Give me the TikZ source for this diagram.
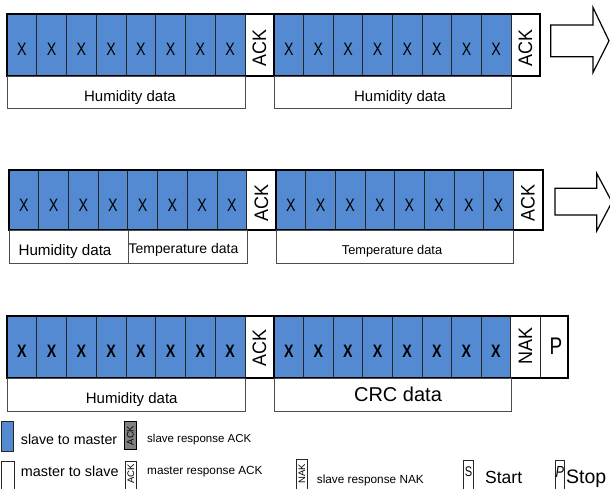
\documentclass[tikz,border=0pt]{standalone}
\usepackage{fontspec}
\setmainfont{Liberation Sans}
\newfontfamily\narrowfont[FakeStretch=0.79]{Liberation Sans}
\newfontfamily\ackfont[FakeStretch=0.92]{Liberation Sans}
\definecolor{bblue}{RGB}{83,138,210}
\definecolor{lgray}{RGB}{128,128,128}
\tikzset{
  xcell/.style={draw=black!85, line width=0.8pt, fill=bblue, inner sep=0pt, minimum height=61pt},
  wcell/.style={draw=black!85, line width=0.8pt, fill=white, inner sep=0pt, minimum height=61pt},
  xtxt/.style={inner sep=0pt, font=\narrowfont\fontsize{18}{19}\selectfont},
  xbtxt/.style={inner sep=0pt, font=\narrowfont\bfseries\fontsize{18}{19}\selectfont},
  acktxt/.style={inner sep=0pt, rotate=90, font=\ackfont\fontsize{19.5}{20}\selectfont},
  frame/.style={draw=black, line width=2pt},
  lbox/.style={draw=black!70, line width=0.9pt, fill=white, inner sep=0pt, anchor=north west},
  ltxt/.style={inner sep=0pt, anchor=base},
  blockarrow/.style={draw=black, line width=1.2pt, fill=white, line join=miter},
  legbox/.style={draw=black!85, line width=0.9pt, inner sep=0pt, anchor=north west},
  legtxt/.style={inner sep=0pt, anchor=base west},
  smallack/.style={inner sep=0pt, rotate=90, font=\fontsize{9.5}{10}\selectfont}
}
\begin{document}
\begin{tikzpicture}[x=1pt,y=-1pt]
\useasboundingbox (0,0) rectangle (610,488);
\clip (0,0) rectangle (610,488);
\fill[white] (0,0) rectangle (610,488);

% ---------------- Row 1 ----------------
\foreach \i in {0,...,7} {
  \node[xcell, minimum width=29.75pt] (ra\i) at ({7+29.75*(\i+0.5)}, 44.75) {};
  \node[xtxt] at ([yshift=-5pt]ra\i.center) {X};
  \node[xcell, minimum width=29.625pt] (rb\i) at ({274+29.625*(\i+0.5)}, 44.75) {};
  \node[xtxt] at ([yshift=-5pt]rb\i.center) {X};
}
\node[wcell, minimum width=29pt] (rack1) at (259.5,44.75) {};
\node[acktxt] at ([yshift=-3.3pt]rack1.center) {ACK};
\node[wcell, minimum width=29pt] (rack2) at (525.5,44.75) {};
\node[acktxt] at ([yshift=-3.3pt]rack2.center) {ACK};
\draw[frame] (7,14) rectangle (540,75.5);
\draw[frame] (274,14) -- (274,75.5);
\node[lbox, minimum width=238pt, minimum height=32pt] (rh1) at (7,76) {};
\node[ltxt, font=\fontsize{15}{16}\selectfont] at (130,101) {Humidity data};
\node[lbox, minimum width=237pt, minimum height=32pt] (rh2) at (274,76) {};
\node[ltxt, font=\fontsize{15}{16}\selectfont] at (400,101) {Humidity data};
\draw[blockarrow] (550.7,25) -- (593,25) -- (593,7.5) -- (609,40.8) -- (593,72.5) -- (593,56.7) -- (550.7,56.7) -- cycle;

% ---------------- Row 2 ----------------
\foreach \i in {0,...,7} {
  \node[xcell, minimum width=29.71pt, minimum height=60.5pt] (sa\i) at ({9+29.71*(\i+0.5)}, 199.75) {};
  \node[xtxt] at ([yshift=-6pt]sa\i.center) {X};
  \node[xcell, minimum width=29.66pt, minimum height=60.5pt] (sb\i) at ({276+29.66*(\i+0.5)}, 199.75) {};
  \node[xtxt] at ([yshift=-6pt]sb\i.center) {X};
}
\node[wcell, minimum width=29.3pt, minimum height=60.5pt] (sack1) at (261.35,199.75) {};
\node[acktxt] at ([yshift=-3.6pt]sack1.center) {ACK};
\node[wcell, minimum width=29.4pt, minimum height=60.5pt] (sack2) at (528,199.75) {};
\node[acktxt] at ([yshift=-3.6pt]sack2.center) {ACK};
\draw[frame] (9,169.5) rectangle (542.7,230);
\draw[frame] (276,169.5) -- (276,230);
\node[lbox, minimum width=118.7pt, minimum height=33pt] (sh1) at (9,230) {};
\node[ltxt, font=\fontsize{15.2}{16}\selectfont] at (65,255) {Humidity data};
\node[lbox, minimum width=119pt, minimum height=33pt] (st1) at (127.7,230) {};
\node[ltxt, font=\fontsize{14}{15}\selectfont] at (183.5,253.3) {Temperature data};
\node[lbox, minimum width=237.3pt, minimum height=33pt] (st2) at (276,230) {};
\node[ltxt, font=\fontsize{12.8}{14}\selectfont] at (392,254) {Temperature data};
\draw[blockarrow] (555,188.3) -- (596.7,188.3) -- (596.7,173.3) -- (612,202) -- (596.7,231) -- (596.7,215) -- (555,215) -- cycle;

% ---------------- Row 3 ----------------
\foreach \i in {0,...,7} {
  \node[xcell, minimum width=29.75pt, minimum height=62pt] (ta\i) at ({7+29.75*(\i+0.5)}, 347) {};
  \node[xbtxt] at ([yshift=-4.7pt]ta\i.center) {X};
  \node[xcell, minimum width=29.59pt, minimum height=62pt] (tb\i) at ({274+29.59*(\i+0.5)}, 347) {};
  \node[xbtxt] at ([yshift=-4.7pt]tb\i.center) {X};
}
\node[wcell, minimum width=29pt, minimum height=62pt] (tack) at (259.5,347) {};
\node[acktxt] at ([yshift=-1pt]tack.center) {ACK};
\node[wcell, minimum width=29.3pt, minimum height=62pt] (tnak) at (525.35,347) {};
\node[acktxt] at ([yshift=1.3pt]tnak.center) {NAK};
\node[wcell, minimum width=28pt, minimum height=62pt] (tp) at (554,347) {};
\node[inner sep=0pt, font=\narrowfont\fontsize{24}{25}\selectfont] at ([xshift=2pt,yshift=0.5pt]tp.center) {P};
\draw[frame] (7,316) rectangle (568,378);
\draw[frame] (274,316) -- (274,378);
\node[lbox, minimum width=238pt, minimum height=32.5pt] (th1) at (7,378) {};
\node[ltxt, font=\fontsize{15}{16}\selectfont] at (131.7,403.3) {Humidity data};
\node[lbox, minimum width=236.7pt, minimum height=32.5pt] (tc1) at (274,378) {};
\node[ltxt, font=\fontsize{20}{21}\selectfont] at (398,401.7) {CRC data};

% ---------------- Legend ----------------
\node[legbox, fill=bblue, minimum width=12pt, minimum height=30pt] (lg1) at (1,421) {};
\node[legtxt, font=\fontsize{14.2}{15}\selectfont] (lt1) at (20.7,444.3) {slave to master};
\node[legbox, fill=lgray, draw=black, minimum width=12pt, minimum height=28pt] (lg2) at (124,421) {};
\node[smallack] at (lg2.center) {ACK};
\node[legtxt, font=\fontsize{11.5}{12}\selectfont] (lt2) at (147,442.3) {slave response ACK};

\node[legbox, fill=white, minimum width=13pt, minimum height=32pt] (lg3) at (1,461) {};
\node[legtxt, font=\fontsize{14.4}{15}\selectfont] (lt3) at (20.7,476) {master to slave};
\node[legbox, fill=white, minimum width=11pt, minimum height=32pt] (lg4) at (125,461) {};
\node[smallack] at ([yshift=3.5pt]lg4.center) {ACK};
\node[legtxt, font=\fontsize{11.8}{12}\selectfont] (lt4) at (147,474.3) {master response ACK};

\node[legbox, fill=white, minimum width=11pt, minimum height=33pt] (lg5) at (296,459) {};
\node[smallack] at ([yshift=2pt]lg5.center) {NAK};
\node[legtxt, font=\fontsize{11.8}{12}\selectfont] (lt5) at (316.7,483.3) {slave response NAK};

\node[legbox, fill=white, minimum width=10pt, minimum height=32pt] (lg6) at (463,460) {};
\node[inner sep=0pt, font=\narrowfont\fontsize{14}{15}\selectfont] at ([yshift=5pt]lg6.center) {S};
\node[legtxt, font=\fontsize{17.5}{18}\selectfont] (lt6) at (485,483.3) {Start};
\node[legbox, fill=white, minimum width=9pt, minimum height=32pt] (lg7) at (555,460) {};
\node[inner sep=0pt, font=\narrowfont\itshape\fontsize{16}{17}\selectfont] at ([yshift=4.5pt]lg7.center) {P};
\node[legtxt, font=\fontsize{19.5}{20}\selectfont] (lt7) at (566,483.3) {Stop};
\end{tikzpicture}
\end{document}
